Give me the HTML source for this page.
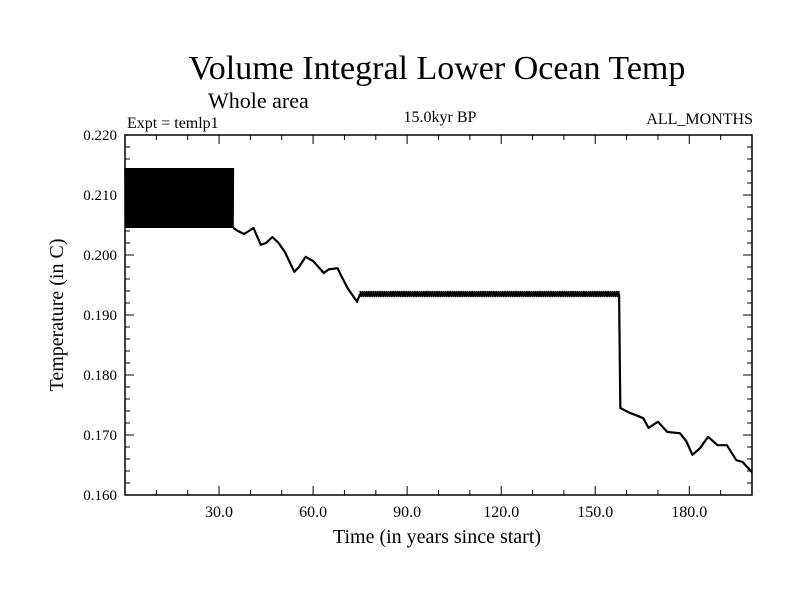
<!DOCTYPE html>
<html><head><meta charset="utf-8"><style>
body{margin:0;background:#fff}
svg text{font-family:"Liberation Serif",serif;fill:#000}
</style></head><body>
<svg width="800" height="600" id="c">
<text x="437" y="79" font-size="34" text-anchor="middle">Volume Integral Lower Ocean Temp</text>
<text x="208" y="108" font-size="22">Whole area</text>
<text x="127" y="128" font-size="16">Expt = temlp1</text>
<text x="440" y="122" font-size="16" text-anchor="middle">15.0kyr BP</text>
<text x="753" y="124" font-size="16" text-anchor="end">ALL_MONTHS</text>
<text x="437" y="543" font-size="20" text-anchor="middle">Time (in years since start)</text>
<text transform="translate(63,315) rotate(-90)" font-size="20" text-anchor="middle">Temperature (in C)</text>
<g id="ax"></g><g id="marks"></g>
<rect x="125" y="135" width="627" height="360" fill="none" stroke="#000" stroke-width="1.5"/>
</svg>
<script>
const xTicks=[30,60,90,120,150,180];
const xTickLabels=["30.0","60.0","90.0","120.0","150.0","180.0"];
const yTicks=[0.16,0.17,0.18,0.19,0.20,0.21,0.22];
const yTickLabels=["0.160","0.170","0.180","0.190","0.200","0.210","0.220"];
// oscillating blocks: start, end, low, high
const blockStart=[0,75];
const blockEnd=[34.6,157.6];
const blockLow=[0.2045,0.1930];
const blockHigh=[0.2145,0.1940];
const blockStep=[0.12,0.35];
// wandering segments
const seg1Years=[34.6,36,38,41,43.3,45,47,49,51,54,55.5,57.6,60,63.4,65,67.8,69,71,74,75];
const seg1Temps=[0.2045,0.2040,0.2035,0.2045,0.2017,0.2020,0.2030,0.2020,0.2005,0.1972,0.1980,0.1997,0.1990,0.1970,0.1976,0.1978,0.1965,0.1945,0.1922,0.1935];
const seg2Years=[157.6,158,161,163,165.3,167,170,173,177,179,181,183.4,186,189,192,195,197,200];
const seg2Temps=[0.1935,0.1745,0.1737,0.1733,0.1728,0.1712,0.1722,0.1705,0.1703,0.1690,0.1667,0.1678,0.1697,0.1683,0.1683,0.1658,0.1655,0.1638];
const X0=125,X1=752,Y0=495,Y1=135;
const sx=v=>X0+(v-0)/200*(X1-X0);
const sy=v=>Y0-(v-0.16)/0.06*(Y0-Y1);
const NS="http://www.w3.org/2000/svg";
const ax=document.getElementById('ax'),mk=document.getElementById('marks');
function mkEl(t,a,p){const e=document.createElementNS(NS,t);for(const k in a)e.setAttribute(k,a[k]);p.appendChild(e);return e;}
for(let v=10;v<200;v+=10){const x=sx(v),big=v%30===0?9:5;
 const t=mkEl('path',{d:`M${x},${Y0}V${Y0-big}M${x},${Y1}V${Y1+big}`,stroke:'#000','stroke-width':1},ax);
 
 }
for(let i=1;i<30;i++){const v=0.16+i*0.002,y=sy(v),big=i%5===0?9:5;
 const t=mkEl('path',{d:`M${X0},${y}H${X0+big}M${X1},${y}H${X1-big}`,stroke:'#000','stroke-width':1},ax);
 
 }
xTicks.forEach((v,i)=>{const t=mkEl('text',{x:sx(v),y:517,'font-size':16,'text-anchor':'middle'},ax);t.textContent=xTickLabels[i];
 
 });
yTicks.forEach((v,i)=>{const t=mkEl('text',{x:117,y:sy(v)+5,'font-size':15,'text-anchor':'end'},ax);t.textContent=yTickLabels[i];
 
 });
blockStart.forEach((s,i)=>{let d='',hi=true;
 for(let t=s;t<=blockEnd[i];t+=blockStep[i]){d+=(d?'L':'M')+sx(t)+','+sy(hi?blockHigh[i]:blockLow[i]);hi=!hi;}
 const p=mkEl('path',{d:d,fill:'none',stroke:'#000','stroke-width':1.6},mk);
 
 });
[[seg1Years,seg1Temps],[seg2Years,seg2Temps]].forEach(([ys,ts])=>{
 const d=ys.map((y,i)=>(i?'L':'M')+sx(y)+','+sy(ts[i])).join('');
 const p=mkEl('path',{d:d,fill:'none',stroke:'#000','stroke-width':2.2,'stroke-linejoin':'round'},mk);
 
 });
</script>
</body></html>
